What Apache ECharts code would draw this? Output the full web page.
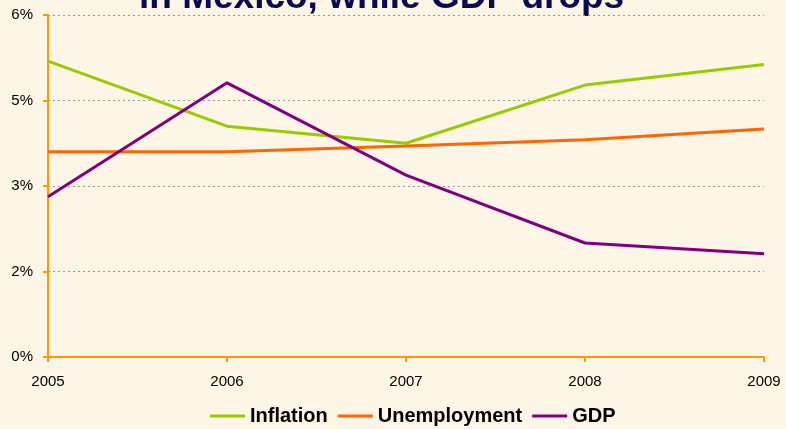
<!DOCTYPE html>
<html>
<head>
<meta charset="utf-8">
<script src="https://cdn.jsdelivr.net/npm/echarts@6/dist/echarts.min.js"></script>
<style>
  html, body { margin: 0; padding: 0; background: #FDF5E6; }
  #chart { width: 786px; height: 429px; }
</style>
</head>
<body>
<div id="chart"></div>
<script>
// data (percent)
const years = ['2005', '2006', '2007', '2008', '2009']
const inflation = [5.19, 4.05, 3.75, 4.77, 5.13]
const unemployment = [3.6, 3.6, 3.7, 3.81, 4.0]
const gdp = [2.81, 4.81, 3.19, 2.0, 1.81]

const chart = echarts.init(document.getElementById('chart'))

const makeLine = (name, data, color) => ({
  name: name,
  type: 'line',
  data: data,
  symbol: 'none',
  animation: false,
  lineStyle: { color: color, width: 3 },
  itemStyle: { color: color }
})

const option = {
  backgroundColor: '#FDF5E6',
  textStyle: { fontFamily: 'Liberation Sans, Arial, sans-serif' },
  graphic: [{
    type: 'text',
    left: 139,
    top: -21,
    style: {
      text: 'in Mexico, while GDP drops',
      fill: '#0A0A50',
      font: 'bold 37px "Liberation Sans", Arial, sans-serif'
    }
  }],
  grid: { left: 48, right: 22, top: 15, bottom: 72 },
  legend: {
    bottom: -2,
    left: 205,
    icon: 'rect',
    itemWidth: 35,
    itemHeight: 3,
    itemGap: 10,
    textStyle: { fontSize: 20, fontWeight: 'bold', color: '#000' },
    data: ['Inflation', 'Unemployment', 'GDP']
  },
  xAxis: {
    type: 'category',
    data: years,
    boundaryGap: false,
    axisLine: { lineStyle: { color: '#FF9900', width: 2 } },
    axisTick: { show: true, length: 5, lineStyle: { color: '#FF9900', width: 2 } },
    axisLabel: { color: '#000', fontSize: 15, margin: 17 },
    splitLine: { show: false }
  },
  yAxis: {
    type: 'value',
    min: 0,
    max: 6,
    interval: 1.5,
    axisLine: { show: true, lineStyle: { color: '#FF9900', width: 2 } },
    axisTick: { show: true, length: 5, lineStyle: { color: '#FF9900', width: 2 } },
    axisLabel: {
      color: '#000',
      fontSize: 15,
      margin: 15,
      formatter: v => Math.round(v) + '%'
    },
    splitLine: { show: true, lineStyle: { color: '#999', width: 1, type: [2, 3] } }
  },
  series: [
    makeLine('Inflation', inflation, '#99CC00'),
    makeLine('Unemployment', unemployment, '#FF6600'),
    makeLine('GDP', gdp, '#800080')
  ]
}

chart.setOption(option)
</script>
</body>
</html>
